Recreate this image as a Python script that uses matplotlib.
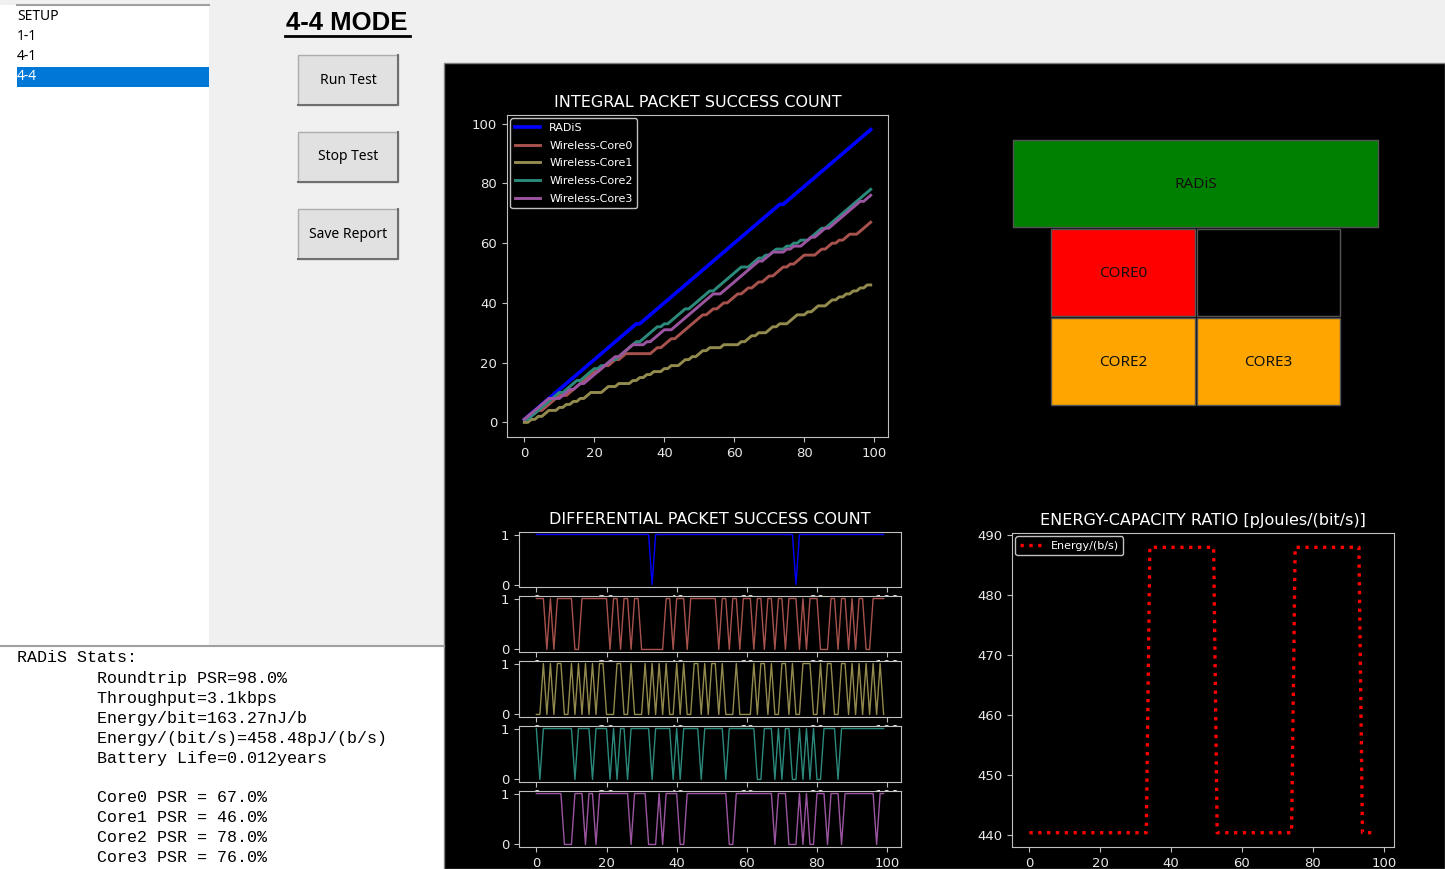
import numpy as np
import matplotlib.pyplot as plt
from matplotlib.patches import Rectangle

W, H = 1445, 869

# packet index -> which packets failed (read from the differential strips)
n_packets = 100
radis_fail = [33, 74]
core0_fail = [3, 5, 11, 12, 21, 24, 27, 30, 31, 32, 33, 34, 35, 36, 39, 43, 52, 55,
              58, 62, 65, 68, 71, 75, 77, 81, 82, 83, 86, 89, 91, 94, 95]
core1_ok = [2, 4, 6, 7, 10, 12, 14, 16, 18, 19, 23, 24, 27, 31, 33, 35, 37,
            40, 42, 45, 46, 48, 50, 51, 53, 57, 62, 64, 65, 67, 70, 71, 73, 76,
            77, 78, 81, 83, 84, 87, 88, 90, 92, 94, 96, 98]
core2_fail = [1, 11, 16, 21, 23, 26, 33, 39, 41, 47, 54, 63, 64, 68, 70, 73, 74,
              76, 78, 80, 81, 86]
core3_fail = [8, 9, 10, 14, 17, 27, 32, 33, 34, 36, 41, 42, 55, 56, 68, 72, 73,
              74, 76, 78, 79, 83, 87, 97]

series_names = ['RADiS', 'Wireless-Core0', 'Wireless-Core1', 'Wireless-Core2', 'Wireless-Core3']
series_colors = ['#0000ff', '#a8524e', '#938a4e', '#2c8a7c', '#9b55a0']

# energy-capacity ratio
energy_n = 99
energy_low = 440.3
energy_high = 487.9
energy_high_runs = [(34, 52), (75, 93)]

menu_items = ['SETUP', '1-1', '4-1', '4-4']
button_labels = ['Run Test', 'Stop Test', 'Save Report']
stats_lines = [
    'RADiS Stats:',
    '        Roundtrip PSR=98.0%',
    '        Throughput=3.1kbps',
    '        Energy/bit=163.27nJ/b',
    '        Energy/(bit/s)=458.48pJ/(b/s)',
    '        Battery Life=0.012years',
    '',
    '        Core0 PSR = 67.0%',
    '        Core1 PSR = 46.0%',
    '        Core2 PSR = 78.0%',
    '        Core3 PSR = 76.0%',
]
core_boxes = [('RADiS', '#008000'), ('CORE0', '#ff0000'), ('', '#000000'),
              ('CORE2', '#ffa500'), ('CORE3', '#ffa500')]


def frac(x0, y0, x1, y1):
    return [x0 / W, 1 - y1 / H, (x1 - x0) / W, (y1 - y0) / H]


def style_ax(ax):
    ax.set_facecolor('black')
    for s in ax.spines.values():
        s.set_color('#c0c0c0')
    ax.tick_params(colors='#e8e8e8', labelsize=9.5, color='#c0c0c0')


# build the series
diff = []
ok = np.zeros(n_packets)
ok[core1_ok] = 1
for fails in [radis_fail, core0_fail, None, core2_fail, core3_fail]:
    if fails is None:
        diff.append(ok)
        continue
    d = np.ones(n_packets)
    d[fails] = 0
    diff.append(d)
x = np.arange(n_packets)

energy = np.full(energy_n, energy_low)
for a, b in energy_high_runs:
    energy[a:b + 1] = energy_high
xe = np.arange(energy_n)

fig = plt.figure(figsize=(W / 100, H / 100), dpi=100, facecolor='#f0f0f0')

# --- the gui around the plots ---
gui = fig.add_axes([0, 0, 1, 1])
gui.set_xlim(0, W)
gui.set_ylim(H, 0)
gui.axis('off')

gui.add_patch(Rectangle((0, 5), 209, 640, fc='white', ec='none'))
gui.plot([17, 209], [5, 5], color='#a0a0a0', lw=1.5)
gui.add_patch(Rectangle((17, 67), 192, 20, fc='#0078d7', ec='none'))
for i, item in enumerate(menu_items):
    gui.text(17, 16 + 20 * i, item, va='center', ha='left', fontsize=10,
             family='Noto Sans', color='white' if item == '4-4' else 'black')

gui.text(347, 23, '4-4 MODE', ha='center', va='center', fontsize=18.5,
         fontweight='bold', family='Liberation Sans')
gui.plot([285, 410], [36, 36], color='black', lw=2)

for i, lab in enumerate(button_labels):
    top = 55 + 77 * i
    gui.add_patch(Rectangle((298, top), 100, 50, fc='#e1e1e1', ec='#adadad', lw=1))
    gui.plot([298, 398, 398], [top + 50, top + 50, top], color='#6f6f6f', lw=1.5)
    gui.text(348, top + 25, lab, ha='center', va='center', fontsize=10, family='Noto Sans')

gui.add_patch(Rectangle((0, 647), 444, 222, fc='white', ec='none'))
gui.plot([0, 444], [646, 646], color='#a0a0a0', lw=1.5)
for i, line in enumerate(stats_lines):
    gui.text(17, 658 + 20 * i, line, va='center', ha='left', fontsize=12,
             family='Liberation Mono')

gui.add_patch(Rectangle((444, 63), W - 444, H - 63, fc='black', ec='#808080', lw=1))

box_pos = [(1013, 140, 365, 87), (1051, 229, 144, 87), (1197, 229, 143, 87),
           (1051, 318, 144, 87), (1197, 318, 143, 87)]
for (name, col), (bx, by, bw, bh) in zip(core_boxes, box_pos):
    gui.add_patch(Rectangle((bx, by), bw, bh, fc=col, ec='#555555', lw=1))
    if name:
        gui.text(bx + bw / 2, by + bh / 2 + 1, name, ha='center', va='center',
                 fontsize=11, family='Noto Sans', color='#111111')

# --- integral packet success count ---
ax = fig.add_axes(frac(507, 115, 888, 437))
style_ax(ax)
for i in range(5):
    ax.plot(x, np.cumsum(diff[i]), color=series_colors[i], lw=2.6 if i == 0 else 2.1,
            label=series_names[i])
ax.set_title('INTEGRAL PACKET SUCCESS COUNT', color='white', fontsize=11.5)
leg = ax.legend(loc='upper left', fontsize=8, facecolor='black', edgecolor='#c0c0c0',
                framealpha=1, borderaxespad=0.3, labelspacing=0.7, handlelength=2.3)
for t in leg.get_texts():
    t.set_color('white')

# --- differential packet success count ---
strips = [(532, 587), (596, 652), (661, 717), (726, 782), (791, 847)]
for i, (t, b) in enumerate(strips):
    a = fig.add_axes(frac(519, t, 901, b))
    style_ax(a)
    a.plot(x, diff[i], color=series_colors[i], lw=1)
    a.set_yticks([0, 1])
    a.set_xticks([0, 20, 40, 60, 80, 100])
    if i < 4:
        a.tick_params(axis='x', pad=1.5)
    if i == 0:
        a.set_title('DIFFERENTIAL PACKET SUCCESS COUNT', color='white', fontsize=11.5)

# --- energy-capacity ratio ---
ae = fig.add_axes(frac(1012, 533, 1394, 847))
style_ax(ae)
ae.plot(xe, energy, color='red', ls=':', lw=2.4, label='Energy/(b/s)')
ae.set_title('ENERGY-CAPACITY RATIO [pJoules/(bit/s)]', color='white', fontsize=11.5)
leg = ae.legend(loc='upper left', fontsize=8, facecolor='black', edgecolor='#c0c0c0',
                framealpha=1, borderaxespad=0.3)
for t in leg.get_texts():
    t.set_color('white')

fig.savefig('out.png', dpi=100, facecolor=fig.get_facecolor())
